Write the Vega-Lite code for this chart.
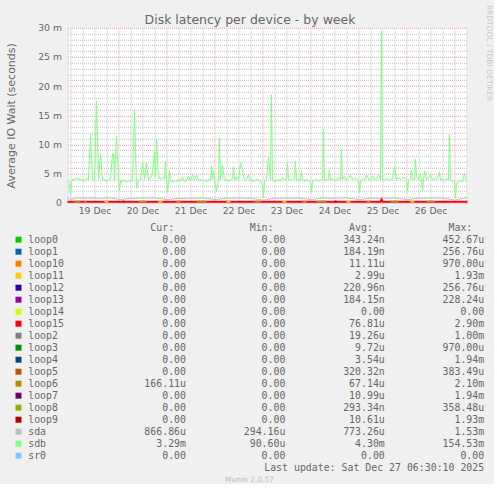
{
  "$schema": "https://vega.github.io/schema/vega-lite/v6.json",
  "background": "#F0F0F0",
  "padding": {"left": 4.5, "top": 4.8, "right": 0, "bottom": 0},
  "bounds": "flush",
  "spacing": 24.9,
  "config": {"view": {"stroke": null}, "axis": {"zindex": 0}},
  "datasets": {
    "sdb": [
      {"t":"2025-12-18T22:30","v":0.0039},{"t":"2025-12-18T23:00","v":0.0037},{"t":"2025-12-18T23:30","v":0.0032},
      {"t":"2025-12-19T00:00","v":0.0013},{"t":"2025-12-19T00:30","v":0.0036},{"t":"2025-12-19T01:00","v":0.0040},
      {"t":"2025-12-19T02:00","v":0.0039},{"t":"2025-12-19T03:00","v":0.0043},{"t":"2025-12-19T04:00","v":0.0041},
      {"t":"2025-12-19T05:00","v":0.0038},{"t":"2025-12-19T06:00","v":0.0040},{"t":"2025-12-19T07:00","v":0.0037},
      {"t":"2025-12-19T08:00","v":0.0042},{"t":"2025-12-19T09:00","v":0.0039},{"t":"2025-12-19T10:00","v":0.0117},
      {"t":"2025-12-19T11:00","v":0.0040},{"t":"2025-12-19T12:00","v":0.0038},{"t":"2025-12-19T13:00","v":0.0174},
      {"t":"2025-12-19T14:00","v":0.0041},{"t":"2025-12-19T15:00","v":0.0084},{"t":"2025-12-19T16:00","v":0.0039},
      {"t":"2025-12-19T17:00","v":0.0040},{"t":"2025-12-19T18:00","v":0.0036},{"t":"2025-12-19T19:00","v":0.0039},
      {"t":"2025-12-19T20:00","v":0.0041},{"t":"2025-12-19T21:00","v":0.0085},{"t":"2025-12-19T21:30","v":0.0083},
      {"t":"2025-12-19T22:00","v":0.0038},{"t":"2025-12-19T23:00","v":0.0115},
      {"t":"2025-12-20T00:00","v":0.0039},{"t":"2025-12-20T00:30","v":0.0021},{"t":"2025-12-20T01:00","v":0.0037},
      {"t":"2025-12-20T02:00","v":0.0036},{"t":"2025-12-20T03:00","v":0.0039},{"t":"2025-12-20T04:00","v":0.0035},
      {"t":"2025-12-20T05:00","v":0.0038},{"t":"2025-12-20T06:00","v":0.0037},{"t":"2025-12-20T07:00","v":0.0039},
      {"t":"2025-12-20T08:00","v":0.0160},{"t":"2025-12-20T09:00","v":0.0024},{"t":"2025-12-20T10:00","v":0.0038},
      {"t":"2025-12-20T11:00","v":0.0040},{"t":"2025-12-20T12:00","v":0.0069},{"t":"2025-12-20T13:00","v":0.0041},
      {"t":"2025-12-20T14:00","v":0.0069},{"t":"2025-12-20T15:00","v":0.0038},{"t":"2025-12-20T16:00","v":0.0042},
      {"t":"2025-12-20T17:00","v":0.0050},{"t":"2025-12-20T18:00","v":0.0088},{"t":"2025-12-20T18:30","v":0.0045},
      {"t":"2025-12-20T19:00","v":0.0109},{"t":"2025-12-20T20:00","v":0.0043},{"t":"2025-12-20T21:00","v":0.0040},
      {"t":"2025-12-20T22:00","v":0.0044},{"t":"2025-12-20T23:00","v":0.0041},{"t":"2025-12-20T23:30","v":0.0071},
      {"t":"2025-12-21T00:00","v":0.0038},{"t":"2025-12-21T00:30","v":0.0019},{"t":"2025-12-21T01:00","v":0.0036},
      {"t":"2025-12-21T01:30","v":0.0055},{"t":"2025-12-21T02:00","v":0.0037},{"t":"2025-12-21T03:00","v":0.0035},
      {"t":"2025-12-21T04:00","v":0.0038},{"t":"2025-12-21T05:00","v":0.0036},{"t":"2025-12-21T06:00","v":0.0040},
      {"t":"2025-12-21T07:00","v":0.0037},{"t":"2025-12-21T08:00","v":0.0044},{"t":"2025-12-21T09:00","v":0.0036},
      {"t":"2025-12-21T10:00","v":0.0039},{"t":"2025-12-21T11:00","v":0.0045},{"t":"2025-12-21T12:00","v":0.0038},
      {"t":"2025-12-21T13:00","v":0.0048},{"t":"2025-12-21T14:00","v":0.0039},{"t":"2025-12-21T15:00","v":0.0048},
      {"t":"2025-12-21T16:00","v":0.0037},{"t":"2025-12-21T17:00","v":0.0040},{"t":"2025-12-21T18:00","v":0.0038},
      {"t":"2025-12-21T19:00","v":0.0039},{"t":"2025-12-21T20:00","v":0.0036},{"t":"2025-12-21T21:00","v":0.0040},
      {"t":"2025-12-21T22:00","v":0.0039},{"t":"2025-12-21T22:30","v":0.0063},{"t":"2025-12-21T23:00","v":0.0041},
      {"t":"2025-12-21T23:30","v":0.0055},
      {"t":"2025-12-22T00:00","v":0.0039},{"t":"2025-12-22T01:00","v":0.0020},{"t":"2025-12-22T02:00","v":0.0040},
      {"t":"2025-12-22T02:30","v":0.0111},{"t":"2025-12-22T03:00","v":0.0039},{"t":"2025-12-22T04:00","v":0.0065},
      {"t":"2025-12-22T05:00","v":0.0038},{"t":"2025-12-22T06:00","v":0.0040},{"t":"2025-12-22T07:00","v":0.0037},
      {"t":"2025-12-22T08:00","v":0.0039},{"t":"2025-12-22T09:00","v":0.0042},{"t":"2025-12-22T09:30","v":0.0062},
      {"t":"2025-12-22T10:00","v":0.0038},{"t":"2025-12-22T11:00","v":0.0045},{"t":"2025-12-22T12:00","v":0.0039},
      {"t":"2025-12-22T13:00","v":0.0069},{"t":"2025-12-22T14:00","v":0.0055},{"t":"2025-12-22T15:00","v":0.0038},
      {"t":"2025-12-22T16:00","v":0.0040},{"t":"2025-12-22T17:00","v":0.0048},{"t":"2025-12-22T18:00","v":0.0039},
      {"t":"2025-12-22T19:00","v":0.0037},{"t":"2025-12-22T20:00","v":0.0038},{"t":"2025-12-22T21:00","v":0.0040},
      {"t":"2025-12-22T22:00","v":0.0039},{"t":"2025-12-22T23:00","v":0.0036},
      {"t":"2025-12-23T00:00","v":0.0030},{"t":"2025-12-23T00:30","v":0.0009},{"t":"2025-12-23T01:00","v":0.0038},
      {"t":"2025-12-23T02:00","v":0.0040},{"t":"2025-12-23T03:00","v":0.0078},{"t":"2025-12-23T04:00","v":0.0039},
      {"t":"2025-12-23T04:30","v":0.0186},{"t":"2025-12-23T05:00","v":0.0040},{"t":"2025-12-23T06:00","v":0.0036},
      {"t":"2025-12-23T07:00","v":0.0038},{"t":"2025-12-23T08:00","v":0.0040},{"t":"2025-12-23T09:00","v":0.0037},
      {"t":"2025-12-23T10:00","v":0.0044},{"t":"2025-12-23T11:00","v":0.0039},{"t":"2025-12-23T12:00","v":0.0041},
      {"t":"2025-12-23T12:30","v":0.0069},{"t":"2025-12-23T13:00","v":0.0040},{"t":"2025-12-23T14:00","v":0.0038},
      {"t":"2025-12-23T15:00","v":0.0039},{"t":"2025-12-23T16:00","v":0.0042},{"t":"2025-12-23T16:30","v":0.0071},
      {"t":"2025-12-23T17:00","v":0.0038},{"t":"2025-12-23T18:00","v":0.0040},{"t":"2025-12-23T19:00","v":0.0039},
      {"t":"2025-12-23T19:30","v":0.0055},{"t":"2025-12-23T20:00","v":0.0038},{"t":"2025-12-23T21:00","v":0.0037},
      {"t":"2025-12-23T22:00","v":0.0039},{"t":"2025-12-23T23:00","v":0.0038},
      {"t":"2025-12-24T00:00","v":0.0035},{"t":"2025-12-24T00:30","v":0.0019},{"t":"2025-12-24T01:00","v":0.0038},
      {"t":"2025-12-24T02:00","v":0.0039},{"t":"2025-12-24T03:00","v":0.0040},{"t":"2025-12-24T04:00","v":0.0037},
      {"t":"2025-12-24T05:00","v":0.0039},{"t":"2025-12-24T06:00","v":0.0041},{"t":"2025-12-24T06:30","v":0.0126},
      {"t":"2025-12-24T07:00","v":0.0038},{"t":"2025-12-24T08:00","v":0.0039},{"t":"2025-12-24T09:00","v":0.0040},
      {"t":"2025-12-24T09:30","v":0.0057},{"t":"2025-12-24T10:00","v":0.0039},{"t":"2025-12-24T11:00","v":0.0042},
      {"t":"2025-12-24T12:00","v":0.0038},{"t":"2025-12-24T13:00","v":0.0040},{"t":"2025-12-24T14:00","v":0.0043},
      {"t":"2025-12-24T15:00","v":0.0039},{"t":"2025-12-24T15:30","v":0.0092},{"t":"2025-12-24T16:00","v":0.0040},
      {"t":"2025-12-24T17:00","v":0.0045},{"t":"2025-12-24T18:00","v":0.0039},{"t":"2025-12-24T19:00","v":0.0042},
      {"t":"2025-12-24T20:00","v":0.0048},{"t":"2025-12-24T21:00","v":0.0040},{"t":"2025-12-24T22:00","v":0.0043},
      {"t":"2025-12-24T23:00","v":0.0041},
      {"t":"2025-12-25T00:00","v":0.0038},{"t":"2025-12-25T00:30","v":0.0017},{"t":"2025-12-25T01:00","v":0.0039},
      {"t":"2025-12-25T02:00","v":0.0041},{"t":"2025-12-25T03:00","v":0.0038},{"t":"2025-12-25T04:00","v":0.0048},
      {"t":"2025-12-25T05:00","v":0.0040},{"t":"2025-12-25T06:00","v":0.0039},{"t":"2025-12-25T07:00","v":0.0046},
      {"t":"2025-12-25T08:00","v":0.0038},{"t":"2025-12-25T09:00","v":0.0041},{"t":"2025-12-25T10:00","v":0.0048},
      {"t":"2025-12-25T11:00","v":0.0039},{"t":"2025-12-25T11:30","v":0.0295},{"t":"2025-12-25T12:00","v":0.0039},
      {"t":"2025-12-25T13:00","v":0.0040},{"t":"2025-12-25T14:00","v":0.0042},{"t":"2025-12-25T15:00","v":0.0038},
      {"t":"2025-12-25T16:00","v":0.0040},{"t":"2025-12-25T17:00","v":0.0041},{"t":"2025-12-25T18:00","v":0.0062},
      {"t":"2025-12-25T19:00","v":0.0040},{"t":"2025-12-25T20:00","v":0.0043},{"t":"2025-12-25T21:00","v":0.0040},
      {"t":"2025-12-25T22:00","v":0.0042},{"t":"2025-12-25T23:00","v":0.0044},
      {"t":"2025-12-26T00:00","v":0.0039},{"t":"2025-12-26T00:30","v":0.0020},{"t":"2025-12-26T01:00","v":0.0038},
      {"t":"2025-12-26T02:00","v":0.0042},{"t":"2025-12-26T02:30","v":0.0056},{"t":"2025-12-26T03:00","v":0.0040},
      {"t":"2025-12-26T04:00","v":0.0039},{"t":"2025-12-26T04:30","v":0.0075},{"t":"2025-12-26T05:00","v":0.0045},
      {"t":"2025-12-26T06:00","v":0.0039},{"t":"2025-12-26T07:00","v":0.0050},{"t":"2025-12-26T08:00","v":0.0020},
      {"t":"2025-12-26T09:00","v":0.0055},{"t":"2025-12-26T10:00","v":0.0040},{"t":"2025-12-26T11:00","v":0.0043},
      {"t":"2025-12-26T12:00","v":0.0048},{"t":"2025-12-26T13:00","v":0.0039},{"t":"2025-12-26T14:00","v":0.0042},
      {"t":"2025-12-26T15:00","v":0.0040},{"t":"2025-12-26T16:00","v":0.0046},{"t":"2025-12-26T16:30","v":0.0053},
      {"t":"2025-12-26T17:00","v":0.0039},{"t":"2025-12-26T18:00","v":0.0040},{"t":"2025-12-26T19:00","v":0.0038},
      {"t":"2025-12-26T20:00","v":0.0041},{"t":"2025-12-26T21:00","v":0.0039},{"t":"2025-12-26T21:30","v":0.0117},
      {"t":"2025-12-26T22:00","v":0.0040},{"t":"2025-12-26T23:00","v":0.0038},
      {"t":"2025-12-27T00:00","v":0.0036},{"t":"2025-12-27T00:30","v":0.0009},{"t":"2025-12-27T01:00","v":0.0034},
      {"t":"2025-12-27T02:00","v":0.0035},{"t":"2025-12-27T03:00","v":0.0038},{"t":"2025-12-27T04:00","v":0.0036},
      {"t":"2025-12-27T05:00","v":0.0051},{"t":"2025-12-27T06:00","v":0.0037},{"t":"2025-12-27T06:30","v":0.0039}
    ],
    "sda": [
      {"t":"2025-12-18T22:30","v":0.00078},{"t":"2025-12-19T00:00","v":0.00055},{"t":"2025-12-19T03:00","v":0.00080},
      {"t":"2025-12-19T09:00","v":0.00082},{"t":"2025-12-19T15:00","v":0.00078},{"t":"2025-12-19T21:00","v":0.00085},
      {"t":"2025-12-20T00:30","v":0.00055},{"t":"2025-12-20T06:00","v":0.00076},{"t":"2025-12-20T12:00","v":0.00080},
      {"t":"2025-12-20T18:00","v":0.00083},{"t":"2025-12-21T00:30","v":0.00055},{"t":"2025-12-21T06:00","v":0.00075},
      {"t":"2025-12-21T12:00","v":0.00078},{"t":"2025-12-21T18:00","v":0.00080},{"t":"2025-12-22T01:00","v":0.00055},
      {"t":"2025-12-22T06:00","v":0.00078},{"t":"2025-12-22T12:00","v":0.00082},{"t":"2025-12-22T18:00","v":0.00077},
      {"t":"2025-12-23T00:30","v":0.00045},{"t":"2025-12-23T06:00","v":0.00080},{"t":"2025-12-23T12:00","v":0.00078},
      {"t":"2025-12-23T18:00","v":0.00080},{"t":"2025-12-24T00:30","v":0.00055},{"t":"2025-12-24T06:00","v":0.00082},
      {"t":"2025-12-24T12:00","v":0.00079},{"t":"2025-12-24T18:00","v":0.00084},{"t":"2025-12-25T00:30","v":0.00055},
      {"t":"2025-12-25T06:00","v":0.00080},{"t":"2025-12-25T12:00","v":0.00078},{"t":"2025-12-25T18:00","v":0.00080},
      {"t":"2025-12-26T00:30","v":0.00055},{"t":"2025-12-26T06:00","v":0.00078},{"t":"2025-12-26T12:00","v":0.00080},
      {"t":"2025-12-26T18:00","v":0.00082},{"t":"2025-12-27T00:30","v":0.00045},{"t":"2025-12-27T04:00","v":0.00075},
      {"t":"2025-12-27T06:30","v":0.00087}
    ],
    "loops": [
      {"s":"loop15","g":"a","t":"2025-12-18T22:30","v":0.0002},{"s":"loop15","g":"a","t":"2025-12-21T12:00","v":0.0002},
      {"s":"loop15","g":"a","t":"2025-12-25T11:00","v":0.0002},{"s":"loop15","g":"a","t":"2025-12-25T11:30","v":0.0006},
      {"s":"loop15","g":"a","t":"2025-12-25T12:00","v":0.0002},{"s":"loop15","g":"a","t":"2025-12-27T06:30","v":0.0002},
      {"s":"loop6","g":"b1","t":"2025-12-19T02:00","v":0.0002},{"s":"loop6","g":"b1","t":"2025-12-19T05:00","v":0.0002},
      {"s":"loop6","g":"b2","t":"2025-12-20T10:00","v":0.0002},{"s":"loop6","g":"b2","t":"2025-12-20T14:00","v":0.0002},
      {"s":"loop6","g":"b3","t":"2025-12-21T15:00","v":0.0002},{"s":"loop6","g":"b3","t":"2025-12-21T20:00","v":0.0002},
      {"s":"loop6","g":"b4","t":"2025-12-22T20:00","v":0.0002},{"s":"loop6","g":"b4","t":"2025-12-22T23:00","v":0.0002},
      {"s":"loop6","g":"b5","t":"2025-12-24T03:00","v":0.0002},{"s":"loop6","g":"b5","t":"2025-12-24T08:00","v":0.0002},
      {"s":"loop6","g":"b6","t":"2025-12-25T16:00","v":0.0002},{"s":"loop6","g":"b6","t":"2025-12-25T20:00","v":0.0002},
      {"s":"loop6","g":"b7","t":"2025-12-26T10:00","v":0.0002},{"s":"loop6","g":"b7","t":"2025-12-26T14:00","v":0.0002},
      {"s":"loop11","g":"c1","t":"2025-12-19T17:00","v":0.0002},{"s":"loop11","g":"c1","t":"2025-12-19T19:00","v":0.0002},
      {"s":"loop11","g":"c2","t":"2025-12-20T20:00","v":0.0002},{"s":"loop11","g":"c2","t":"2025-12-20T22:00","v":0.0002},
      {"s":"loop11","g":"c3","t":"2025-12-22T06:00","v":0.0002},{"s":"loop11","g":"c3","t":"2025-12-22T08:00","v":0.0002},
      {"s":"loop11","g":"c4","t":"2025-12-23T10:00","v":0.0002},{"s":"loop11","g":"c4","t":"2025-12-23T12:00","v":0.0002},
      {"s":"loop11","g":"c5","t":"2025-12-24T18:00","v":0.0002},{"s":"loop11","g":"c5","t":"2025-12-24T20:00","v":0.0002},
      {"s":"loop11","g":"c6","t":"2025-12-26T02:00","v":0.0002},{"s":"loop11","g":"c6","t":"2025-12-26T04:00","v":0.0002},
      {"s":"loop10","g":"d1","t":"2025-12-19T07:00","v":0.0002},{"s":"loop10","g":"d1","t":"2025-12-19T08:00","v":0.0002},
      {"s":"loop10","g":"d2","t":"2025-12-21T05:00","v":0.0002},{"s":"loop10","g":"d2","t":"2025-12-21T07:00","v":0.0002},
      {"s":"loop10","g":"d3","t":"2025-12-23T20:00","v":0.0002},{"s":"loop10","g":"d3","t":"2025-12-23T22:00","v":0.0002},
      {"s":"loop10","g":"d4","t":"2025-12-25T04:00","v":0.0002},{"s":"loop10","g":"d4","t":"2025-12-25T06:00","v":0.0002},
      {"s":"loop9","g":"e1","t":"2025-12-20T02:00","v":0.0002},{"s":"loop9","g":"e1","t":"2025-12-20T03:00","v":0.0002},
      {"s":"loop9","g":"e2","t":"2025-12-24T12:00","v":0.0002},{"s":"loop9","g":"e2","t":"2025-12-24T13:00","v":0.0002}
    ],
    "legend": [
      {"name":"loop0","cur":"0.00\u00a0","min":"0.00\u00a0","avg":"343.24n","max":"452.67u"},
      {"name":"loop1","cur":"0.00\u00a0","min":"0.00\u00a0","avg":"184.19n","max":"256.76u"},
      {"name":"loop10","cur":"0.00\u00a0","min":"0.00\u00a0","avg":"11.11u","max":"970.00u"},
      {"name":"loop11","cur":"0.00\u00a0","min":"0.00\u00a0","avg":"2.99u","max":"1.93m"},
      {"name":"loop12","cur":"0.00\u00a0","min":"0.00\u00a0","avg":"220.96n","max":"256.76u"},
      {"name":"loop13","cur":"0.00\u00a0","min":"0.00\u00a0","avg":"184.15n","max":"228.24u"},
      {"name":"loop14","cur":"0.00\u00a0","min":"0.00\u00a0","avg":"0.00\u00a0","max":"0.00\u00a0"},
      {"name":"loop15","cur":"0.00\u00a0","min":"0.00\u00a0","avg":"76.81u","max":"2.90m"},
      {"name":"loop2","cur":"0.00\u00a0","min":"0.00\u00a0","avg":"19.26u","max":"1.00m"},
      {"name":"loop3","cur":"0.00\u00a0","min":"0.00\u00a0","avg":"9.72u","max":"970.00u"},
      {"name":"loop4","cur":"0.00\u00a0","min":"0.00\u00a0","avg":"3.54u","max":"1.94m"},
      {"name":"loop5","cur":"0.00\u00a0","min":"0.00\u00a0","avg":"320.32n","max":"383.49u"},
      {"name":"loop6","cur":"166.11u","min":"0.00\u00a0","avg":"67.14u","max":"2.10m"},
      {"name":"loop7","cur":"0.00\u00a0","min":"0.00\u00a0","avg":"10.99u","max":"1.94m"},
      {"name":"loop8","cur":"0.00\u00a0","min":"0.00\u00a0","avg":"293.34n","max":"358.48u"},
      {"name":"loop9","cur":"0.00\u00a0","min":"0.00\u00a0","avg":"10.61u","max":"1.93m"},
      {"name":"sda","cur":"866.86u","min":"294.16u","avg":"773.26u","max":"1.53m"},
      {"name":"sdb","cur":"3.29m","min":"90.60u","avg":"4.30m","max":"154.53m"},
      {"name":"sr0","cur":"0.00\u00a0","min":"0.00\u00a0","avg":"0.00\u00a0","max":"0.00\u00a0"}
    ],
    "extra": [
      {"kind":"hdr","row":"__hdr","key":"cur","label":"Cur:"},
      {"kind":"hdr","row":"__hdr","key":"min","label":"Min:"},
      {"kind":"hdr","row":"__hdr","key":"avg","label":"Avg:"},
      {"kind":"hdr","row":"__hdr","key":"max","label":"Max:"},
      {"kind":"last","row":"__last","key":"max","label":"Last update: Sat Dec 27 06:30:10 2025"},
      {"kind":"munin","row":"__munin","key":"cur","label":"Munin 2.0.57"},
      {"kind":"rrd","row":"__hdr","key":"max","label":"RRDTOOL / TOBI OETIKER"}
    ]
  },
  "vconcat": [
    {
      "width": 400,
      "height": 175,
      "view": {"fill": "#FFFFFF", "stroke": null},
      "title": {"text": "Disk latency per device - by week", "anchor": "middle", "frame": "group", "dx": -17.5, "font": "DejaVu Sans", "fontSize": 12.5, "fontWeight": "normal", "color": "#666666", "baseline": "alphabetic", "offset": -13.1},
      "resolve": {"axis": {"x": "independent", "y": "independent"}},
      "layer": [
        {
          "data": {"name": "loops"},
          "transform": [{"filter": "datum.s == 'loop15'"}],
          "mark": {"type": "line", "color": "#FF0000", "strokeWidth": 2},
          "encoding": {
            "x": {"field": "t", "type": "temporal", "scale": {"domain": [{"year":2025,"month":12,"date":18,"hours":22,"minutes":30},{"year":2025,"month":12,"date":27,"hours":6,"minutes":30}]}, "axis": null},
            "y": {"field": "v", "type": "quantitative", "scale": {"domain": [0, 0.03], "nice": false}, "axis": null}
          }
        },
        {
          "data": {"name": "loops"},
          "transform": [{"filter": "datum.s != 'loop15'"}],
          "mark": {"type": "line", "strokeWidth": 2},
          "encoding": {
            "x": {"field": "t", "type": "temporal", "scale": {"domain": [{"year":2025,"month":12,"date":18,"hours":22,"minutes":30},{"year":2025,"month":12,"date":27,"hours":6,"minutes":30}]},
              "axis": {"orient": "bottom", "title": null, "labels": false, "ticks": false, "domain": false, "grid": true, "gridColor": "#C4C4C4", "gridDash": [1, 1], "gridWidth": 1,
                "values": [
                  {"year":2025,"month":12,"date":19,"hours":6},{"year":2025,"month":12,"date":19,"hours":12},{"year":2025,"month":12,"date":19,"hours":18},
                  {"year":2025,"month":12,"date":20,"hours":6},{"year":2025,"month":12,"date":20,"hours":12},{"year":2025,"month":12,"date":20,"hours":18},
                  {"year":2025,"month":12,"date":21,"hours":6},{"year":2025,"month":12,"date":21,"hours":12},{"year":2025,"month":12,"date":21,"hours":18},
                  {"year":2025,"month":12,"date":22,"hours":6},{"year":2025,"month":12,"date":22,"hours":12},{"year":2025,"month":12,"date":22,"hours":18},
                  {"year":2025,"month":12,"date":23,"hours":6},{"year":2025,"month":12,"date":23,"hours":12},{"year":2025,"month":12,"date":23,"hours":18},
                  {"year":2025,"month":12,"date":24,"hours":6},{"year":2025,"month":12,"date":24,"hours":12},{"year":2025,"month":12,"date":24,"hours":18},
                  {"year":2025,"month":12,"date":25,"hours":6},{"year":2025,"month":12,"date":25,"hours":12},{"year":2025,"month":12,"date":25,"hours":18},
                  {"year":2025,"month":12,"date":26,"hours":6},{"year":2025,"month":12,"date":26,"hours":12},{"year":2025,"month":12,"date":26,"hours":18},
                  {"year":2025,"month":12,"date":27,"hours":6}
                ]}},
            "y": {"field": "v", "type": "quantitative", "scale": {"domain": [0, 0.03], "nice": false},
              "axis": {"orient": "left", "title": null, "labels": false, "ticks": false, "domain": false, "grid": true, "gridColor": "#C4C4C4", "gridDash": [1, 1], "gridWidth": 1,
                "values": [0.001,0.002,0.003,0.004,0.006,0.007,0.008,0.009,0.011,0.012,0.013,0.014,0.016,0.017,0.018,0.019,0.021,0.022,0.023,0.024,0.026,0.027,0.028,0.029]}},
            "color": {"field": "s", "type": "nominal", "legend": null,
              "scale": {"domain": ["loop0","loop1","loop10","loop11","loop12","loop13","loop14","loop15","loop2","loop3","loop4","loop5","loop6","loop7","loop8","loop9","sda","sdb","sr0"],
                "range": ["#00CC00","#0066B3","#FF8000","#FFCC00","#330099","#990099","#CCFF00","#FF0000","#808080","#008F00","#00487D","#B35A00","#B38F00","#6B006B","#8FB300","#B30000","#BEBEBE","#80FF80","#80C9FF"]}},
            "detail": {"field": "g", "type": "nominal"}
          }
        },
        {
          "data": {"name": "sda"},
          "mark": {"type": "line", "color": "#BEBEBE", "strokeWidth": 1},
          "encoding": {
            "x": {"field": "t", "type": "temporal", "scale": {"domain": [{"year":2025,"month":12,"date":18,"hours":22,"minutes":30},{"year":2025,"month":12,"date":27,"hours":6,"minutes":30}]}, "axis": null},
            "y": {"field": "v", "type": "quantitative", "scale": {"domain": [0, 0.03], "nice": false}, "axis": null}
          }
        },
        {
          "data": {"name": "sdb"},
          "mark": {"type": "line", "color": "#80FF80", "strokeWidth": 1},
          "encoding": {
            "x": {"field": "t", "type": "temporal", "scale": {"domain": [{"year":2025,"month":12,"date":18,"hours":22,"minutes":30},{"year":2025,"month":12,"date":27,"hours":6,"minutes":30}]},
              "axis": {"orient": "bottom", "title": null, "ticks": false, "domain": true, "domainColor": "#CFD6F8", "grid": true, "gridColor": "#EBA0A0", "gridDash": [1, 1], "gridWidth": 1,
                "labelExpr": "date(datum.value) == 27 ? '' : timeFormat(datum.value, '%d %b')", "labelOffset": 24, "labelPadding": 4,
                "labelFont": "DejaVu Sans", "labelFontSize": 9.3, "labelColor": "#666666", "labelBound": false, "labelFlush": false, "labelOverlap": false,
                "values": [
                  {"year":2025,"month":12,"date":19},{"year":2025,"month":12,"date":20},{"year":2025,"month":12,"date":21},
                  {"year":2025,"month":12,"date":22},{"year":2025,"month":12,"date":23},{"year":2025,"month":12,"date":24},
                  {"year":2025,"month":12,"date":25},{"year":2025,"month":12,"date":26},{"year":2025,"month":12,"date":27}
                ]}},
            "y": {"field": "v", "type": "quantitative", "scale": {"domain": [0, 0.03], "nice": false},
              "axis": {"orient": "left", "ticks": false, "domain": true, "domainColor": "#CFD6F8", "grid": true, "gridColor": "#EBA0A0", "gridDash": [1, 1], "gridWidth": 1,
                "values": [0, 0.005, 0.01, 0.015, 0.02, 0.025, 0.03],
                "labelExpr": "datum.value == 0 ? '0' : round(datum.value * 1000) + ' m'", "labelPadding": 6,
                "labelFont": "DejaVu Sans", "labelFontSize": 9.3, "labelColor": "#666666", "labelBound": false, "labelFlush": false, "labelOverlap": false,
                "title": "Average IO Wait (seconds)", "titleFont": "DejaVu Sans", "titleFontSize": 11, "titleFontWeight": "normal", "titleColor": "#666666",
                "titleAngle": -90, "titleAlign": "center", "titleBaseline": "middle", "titleX": -56, "titleY": 87.5}}
          }
        }
      ]
    },
    {
      "width": 416.7,
      "height": 252,
      "view": {"stroke": null},
      "layer": [
        {
          "data": {"name": "legend"},
          "mark": {"type": "square", "size": 36, "opacity": 1, "xOffset": -167.5},
          "encoding": {
            "x": {"datum": "cur", "type": "ordinal", "scale": {"type": "point", "domain": ["cur","min","avg","max"], "padding": 0.596, "align": 1}, "axis": null},
            "y": {"field": "name", "type": "ordinal", "scale": {"type": "point", "padding": 0, "domain": ["__hdr","loop0","loop1","loop10","loop11","loop12","loop13","loop14","loop15","loop2","loop3","loop4","loop5","loop6","loop7","loop8","loop9","sda","sdb","sr0","__last","__munin"]}, "axis": null},
            "color": {"field": "name", "type": "nominal", "legend": null,
              "scale": {"domain": ["loop0","loop1","loop10","loop11","loop12","loop13","loop14","loop15","loop2","loop3","loop4","loop5","loop6","loop7","loop8","loop9","sda","sdb","sr0"],
                "range": ["#00CC00","#0066B3","#FF8000","#FFCC00","#330099","#990099","#CCFF00","#FF0000","#808080","#008F00","#00487D","#B35A00","#B38F00","#6B006B","#8FB300","#B30000","#BEBEBE","#80FF80","#80C9FF"]}}
          }
        },
        {
          "data": {"name": "legend"},
          "mark": {"type": "text", "align": "left", "baseline": "middle", "dx": -157.8, "font": "DejaVu Sans Mono", "fontSize": 9.9, "color": "#666666"},
          "encoding": {
            "x": {"datum": "cur", "type": "ordinal", "axis": null},
            "y": {"field": "name", "type": "ordinal", "axis": null},
            "text": {"field": "name"}
          }
        },
        {
          "data": {"name": "legend"},
          "transform": [{"fold": ["cur", "min", "avg", "max"], "as": ["key", "val"]}],
          "mark": {"type": "text", "align": "right", "baseline": "middle", "font": "DejaVu Sans Mono", "fontSize": 9.9, "color": "#666666"},
          "encoding": {
            "x": {"field": "key", "type": "ordinal", "axis": null},
            "y": {"field": "name", "type": "ordinal", "axis": null},
            "text": {"field": "val"}
          }
        },
        {
          "data": {"name": "extra"},
          "transform": [{"filter": "datum.kind == 'hdr'"}],
          "mark": {"type": "text", "align": "right", "baseline": "middle", "dx": -11.9, "font": "DejaVu Sans Mono", "fontSize": 9.9, "color": "#666666"},
          "encoding": {
            "x": {"field": "key", "type": "ordinal", "axis": null},
            "y": {"field": "row", "type": "ordinal", "axis": null},
            "text": {"field": "label"}
          }
        },
        {
          "data": {"name": "extra"},
          "transform": [{"filter": "datum.kind == 'last'"}],
          "mark": {"type": "text", "align": "right", "baseline": "middle", "font": "DejaVu Sans Mono", "fontSize": 9.9, "color": "#666666"},
          "encoding": {
            "x": {"field": "key", "type": "ordinal", "axis": null},
            "y": {"field": "row", "type": "ordinal", "axis": null},
            "text": {"field": "label"}
          }
        },
        {
          "data": {"name": "extra"},
          "transform": [{"filter": "datum.kind == 'munin'"}],
          "mark": {"type": "text", "align": "center", "baseline": "middle", "dx": 63.5, "font": "DejaVu Sans", "fontSize": 7.5, "color": "#BBBBBB"},
          "encoding": {
            "x": {"field": "key", "type": "ordinal", "axis": null},
            "y": {"field": "row", "type": "ordinal", "axis": null},
            "text": {"field": "label"}
          }
        },
        {
          "data": {"name": "extra"},
          "transform": [{"filter": "datum.kind == 'rrd'"}],
          "mark": {"type": "text", "align": "center", "baseline": "middle", "angle": 90, "dx": -174.6, "dy": -4.6, "font": "DejaVu Sans", "fontSize": 7.5, "color": "#C8C8C8"},
          "encoding": {
            "x": {"field": "key", "type": "ordinal", "axis": null},
            "y": {"field": "row", "type": "ordinal", "axis": null},
            "text": {"field": "label"}
          }
        }
      ]
    }
  ]
}
